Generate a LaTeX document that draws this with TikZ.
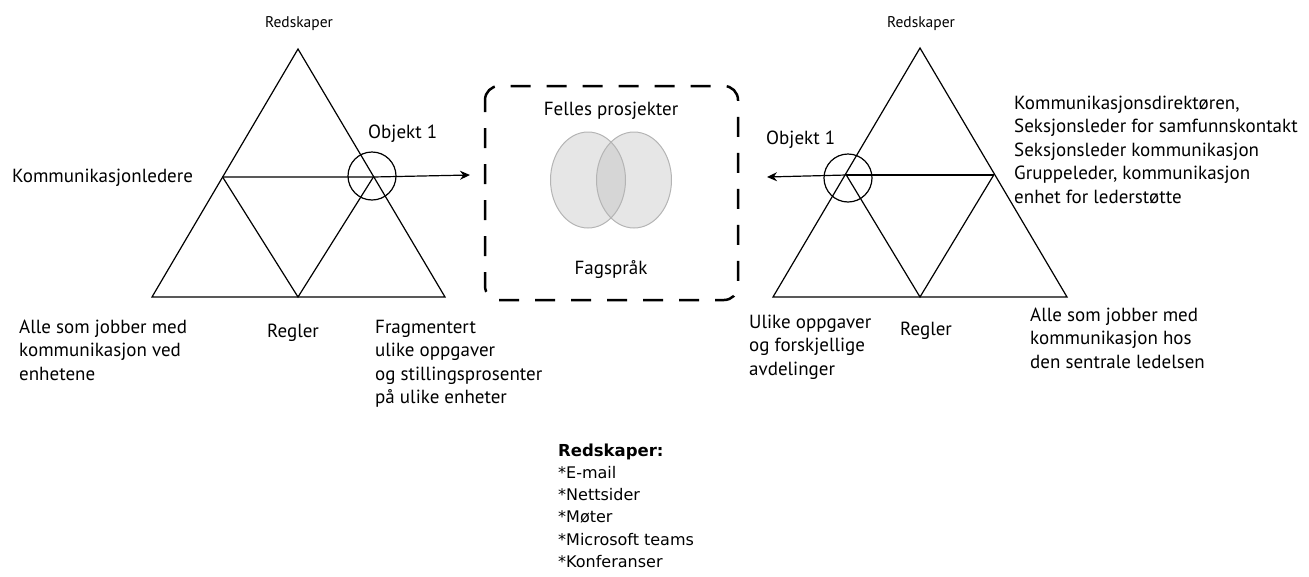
\documentclass[tikz,border=0pt]{standalone}
\usepackage{fontspec}
\setmainfont{PT Sans}
\newfontfamily\listfont{DejaVu Sans}
\usetikzlibrary{arrows.meta}
\newcommand\firstline{\rule{0pt}{15pt}}
\begin{document}
\begin{tikzpicture}[x=1pt,y=-1pt,
  edge/.style={line width=1.2pt},
  lbl/.style={inner sep=0pt, anchor=base west, align=left, font=\fontsize{19}{23.5}\selectfont},
  block/.style={lbl, anchor=north west},
  small/.style={inner sep=0pt, anchor=base, font=\fontsize{15.5}{18}\selectfont},
  ring/.style={circle, draw, line width=1.2pt, minimum size=48pt, inner sep=0pt},
  flow/.style={line width=1.2pt, -{Stealth[length=10pt,width=9pt]}}]
\useasboundingbox (0,0) rectangle (1309,576);

% ---- left triangle ----
\coordinate (LA) at (298,49);
\coordinate (LBL) at (152,297);
\coordinate (LBR) at (445,297);
\coordinate (LBM) at (298,297);
\coordinate (LML) at (222.6,177);
\coordinate (LMR) at (373.4,177);
\draw[edge, line join=miter] (LA) -- (LBL) -- (LBR) -- cycle;
\draw[edge] (LML) -- (LBM) -- (LMR);
\node[ring] (LC) at (372,176) {};
\coordinate (LT) at (470,175);
\draw[flow] (LML) -- (LMR) -- (LT);

% ---- right triangle ----
\coordinate (RA) at (920,48);
\coordinate (RBL) at (773,297);
\coordinate (RBR) at (1067,297);
\coordinate (RBM) at (920,297);
\coordinate (RML) at (846.3,175);
\coordinate (RMR) at (993.7,175);
\draw[edge, line join=miter] (RA) -- (RBL) -- (RBR) -- cycle;
\draw[edge] (RML) -- (RBM) -- (RMR);
\node[ring] (RC) at (848,178) {};
\coordinate (RT) at (767,177);
\coordinate (RK) at (873,175);
\draw[edge] (RMR) -- (RML);
\draw[line width=2.4pt] (RML) -- (RK);
\draw[flow] (RML) -- (RT);

% ---- shared object box ----
\draw[line width=2.5pt, dash pattern=on 20pt off 16pt, dash phase=8pt, rounded corners=14pt]
  (485,86) rectangle (738,300);
\definecolor{vennfill}{HTML}{E6E6E6}
\definecolor{vennmid}{HTML}{D6D6D6}
\definecolor{vennline}{HTML}{B4B4B4}
\fill[vennfill] (588,180) ellipse [x radius=37.5, y radius=48];
\fill[vennfill] (634,180) ellipse [x radius=37.5, y radius=48];
\begin{scope}
  \clip (588,180) ellipse [x radius=37.5, y radius=48];
  \fill[vennmid] (634,180) ellipse [x radius=37.5, y radius=48];
\end{scope}
\draw[vennline, line width=1pt] (588,180) ellipse [x radius=37.5, y radius=48];
\draw[vennline, line width=1pt] (634,180) ellipse [x radius=37.5, y radius=48];
\node[lbl, anchor=base] (fp) at (611,115) {Felles prosjekter};
\node[lbl, anchor=base] (fs) at (611,274) {Fagspråk};

% ---- left labels ----
\node[small] (lr) at (299,27) {Redskaper};
\node[lbl] (lk) at (12,182) {Kommunikasjonledere};
\node[lbl] (lo) at (368,138) {Objekt 1};
\node[block] (la) at (19,318) {\firstline Alle som jobber med\\kommunikasjon ved\\enhetene};
\node[lbl] (lg) at (267,337) {Regler};
\node[block] (lf) at (375,318) {\firstline Fragmentert\\ulike oppgaver\\og stillingsprosenter\\på ulike enheter};

% ---- right labels ----
\node[small] (rr) at (921,27) {Redskaper};
\node[lbl] (ro) at (766,144) {Objekt 1};
\node[block] (rk) at (1014,94) {\firstline Kommunikasjonsdirektøren,\\Seksjonsleder for samfunnskontakt\\Seksjonsleder kommunikasjon\\Gruppeleder, kommunikasjon\\enhet for lederstøtte};
\node[block] (ru) at (749,313) {\firstline Ulike oppgaver\\og forskjellige\\avdelinger};
\node[lbl] (rg) at (900,335) {Regler};
\node[block] (ra) at (1030,306) {\firstline Alle som jobber med\\kommunikasjon hos\\den sentrale ledelsen};

% ---- tool list ----
\node[inner sep=0pt, anchor=north west, align=left, font=\listfont\fontsize{16}{22.2}\selectfont] (tl) at (558,441)
  {\firstline{\fontsize{16.5}{22.2}\selectfont\bfseries Redskaper:}\\*E-mail\\*Nettsider\\*Møter\\*Microsoft teams\\*Konferanser};
\end{tikzpicture}
\end{document}
